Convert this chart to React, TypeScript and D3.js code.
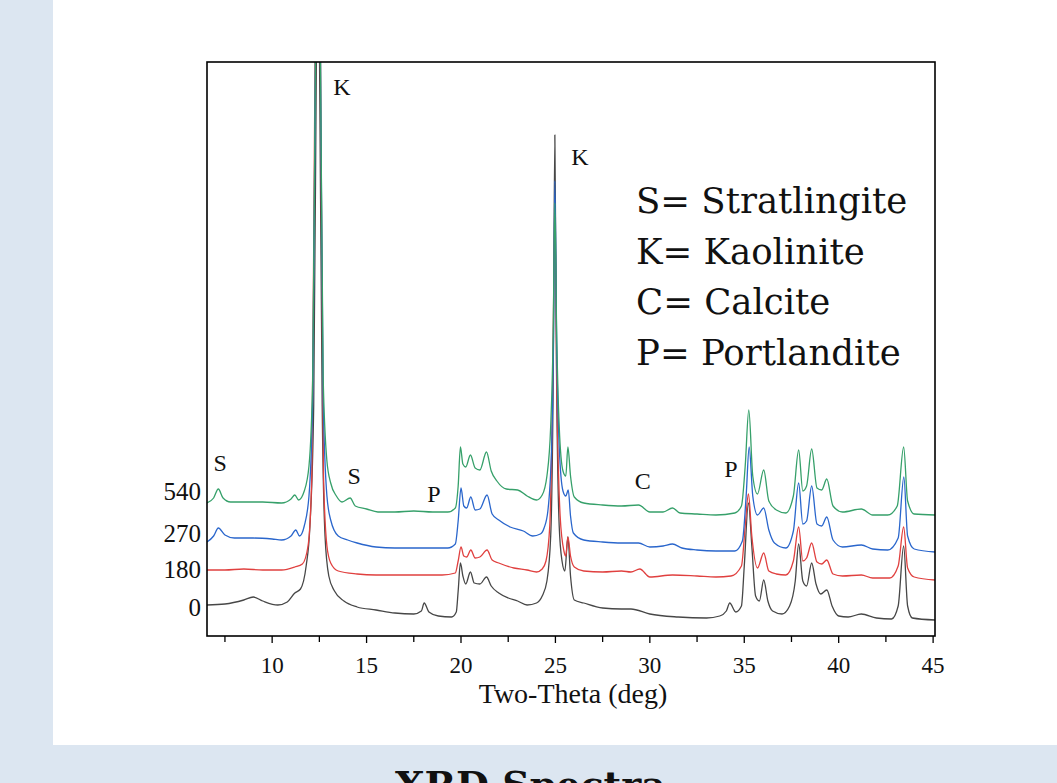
import React from 'react';
import * as d3 from 'd3';

// two-theta (deg) / intensity pairs, one array per curing age
const scan0: [number, number][] = [
  [6.55, 31], [7.5, 32], [8.5, 36], [9.0, 39], [9.5, 35], [10.3, 31], [10.8, 34], [11.2, 43], [11.5, 47],
  [11.8, 70], [12.0, 110], [12.2, 230], [12.35, 600], [12.42, 760], [12.5, 600], [12.65, 230], [12.8, 100],
  [13.0, 60], [13.3, 45], [13.8, 35], [14.5, 29], [15.5, 26], [16.5, 23], [17.5, 22], [17.9, 25], [18.05, 33],
  [18.3, 24], [18.8, 20], [19.5, 19], [19.75, 24], [19.85, 45], [19.97, 73], [20.1, 60], [20.25, 52], [20.5, 64],
  [20.7, 53], [21.0, 52], [21.35, 59], [21.6, 50], [22.0, 43], [22.5, 38], [23.0, 35], [23.5, 31], [24.0, 33],
  [24.3, 40], [24.55, 55], [24.75, 100], [24.88, 250], [24.97, 501], [25.06, 260], [25.2, 110], [25.35, 75],
  [25.5, 65], [25.66, 99], [25.8, 60], [26.0, 36], [26.5, 33], [27.5, 28], [28.5, 27], [29.0, 27], [30.0, 22],
  [31.5, 19], [33.0, 18], [33.7, 20], [34.05, 25], [34.23, 33], [34.55, 24], [34.85, 30], [35.0, 70],
  [35.22, 133], [35.4, 90], [35.6, 40], [35.8, 35], [36.03, 56], [36.25, 35], [36.5, 25], [37.0, 22],
  [37.4, 30], [37.7, 55], [37.88, 92], [38.1, 55], [38.3, 50], [38.57, 73], [38.8, 52], [39.05, 42],
  [39.37, 46], [39.65, 30], [40.0, 20], [40.5, 19], [41.2, 22], [42.0, 18], [42.8, 17], [43.15, 30],
  [43.44, 90], [43.65, 30], [43.9, 18], [45.1, 16],
];

const scan180: [number, number][] = [
  [6.55, 66], [7.5, 66], [8.5, 67], [9.5, 66], [10.5, 66], [11.2, 69], [11.6, 72], [11.9, 90], [12.1, 160],
  [12.28, 600], [12.42, 770], [12.55, 600], [12.72, 160], [12.9, 90], [13.1, 73], [13.5, 65], [14.5, 62],
  [15.5, 61], [17.0, 61], [19.0, 61], [19.7, 63], [19.85, 75], [20.0, 89], [20.15, 80], [20.3, 79],
  [20.52, 86], [20.75, 78], [21.0, 79], [21.38, 86], [21.65, 76], [22.0, 73], [22.8, 68], [23.5, 66],
  [24.0, 64], [24.3, 67], [24.5, 75], [24.7, 110], [24.85, 240], [24.97, 420], [25.08, 240], [25.25, 120],
  [25.45, 85], [25.55, 80], [25.66, 99], [25.8, 80], [26.0, 69], [26.5, 65], [27.5, 64], [28.5, 65],
  [29.0, 64], [29.47, 67], [30.0, 59], [31.2, 61], [32.5, 60], [33.5, 59], [34.3, 60], [34.85, 70],
  [35.05, 110], [35.22, 142], [35.4, 100], [35.7, 68], [36.03, 83], [36.3, 65], [36.7, 62], [37.2, 61],
  [37.6, 75], [37.88, 109], [38.1, 75], [38.3, 78], [38.57, 93], [38.85, 74], [39.1, 72], [39.37, 76],
  [39.7, 62], [40.2, 60], [41.2, 61], [41.8, 58], [42.7, 58], [43.15, 70], [43.44, 109], [43.65, 68],
  [44.0, 59], [45.1, 56],
];

const scan270: [number, number][] = [
  [6.55, 94], [6.9, 100], [7.15, 108], [7.5, 101], [8.0, 98], [9.0, 98], [10.0, 97], [10.5, 96], [11.0, 100],
  [11.25, 106], [11.45, 100], [11.7, 110], [11.95, 140], [12.15, 240], [12.3, 600], [12.42, 780], [12.55, 600],
  [12.7, 240], [12.9, 140], [13.1, 116], [13.5, 100], [14.0, 96], [14.5, 93], [15.5, 89], [16.5, 88],
  [18.0, 88], [19.3, 88], [19.7, 92], [19.85, 115], [20.0, 148], [20.15, 130], [20.3, 128], [20.52, 139],
  [20.75, 126], [21.0, 127], [21.38, 141], [21.65, 122], [22.0, 116], [22.6, 109], [23.3, 105], [23.8, 100],
  [24.2, 102], [24.4, 108], [24.6, 125], [24.8, 190], [24.9, 300], [24.97, 455], [25.06, 300], [25.2, 190],
  [25.4, 145], [25.55, 140], [25.68, 146], [25.8, 120], [25.95, 103], [26.5, 96], [27.5, 94], [28.5, 93],
  [29.4, 93], [30.0, 89], [30.7, 90], [31.2, 92], [31.7, 88], [32.5, 86], [33.5, 85], [34.5, 85], [34.9, 95],
  [35.1, 140], [35.26, 189], [35.45, 140], [35.7, 121], [36.03, 128], [36.3, 106], [36.6, 93], [37.2, 88],
  [37.6, 105], [37.88, 153], [38.1, 112], [38.3, 115], [38.57, 150], [38.85, 112], [39.1, 110], [39.37, 119],
  [39.7, 96], [40.2, 89], [41.2, 91], [41.8, 87], [42.6, 86], [43.15, 98], [43.45, 159], [43.65, 100],
  [44.0, 87], [45.1, 84],
];

const scan540: [number, number][] = [
  [6.55, 133], [6.9, 138], [7.15, 147], [7.4, 138], [7.8, 134], [8.5, 134], [9.5, 134], [10.5, 133], [11.0, 137],
  [11.2, 141], [11.4, 136], [11.7, 145], [11.95, 170], [12.15, 260], [12.3, 600], [12.42, 800], [12.55, 600],
  [12.7, 260], [12.9, 175], [13.1, 153], [13.4, 140], [13.7, 134], [14.13, 138], [14.4, 130], [15.0, 127],
  [15.6, 124], [16.5, 124], [17.5, 125], [18.5, 124], [19.3, 124], [19.7, 128], [19.85, 150], [19.97, 189],
  [20.1, 172], [20.25, 169], [20.5, 181], [20.75, 168], [21.0, 166], [21.35, 184], [21.6, 165], [21.9, 155],
  [22.4, 147], [23.0, 146], [23.5, 140], [24.0, 136], [24.3, 141], [24.55, 160], [24.75, 210], [24.88, 300],
  [24.97, 433], [25.06, 310], [25.2, 210], [25.4, 165], [25.55, 160], [25.66, 189], [25.8, 160], [26.0, 139],
  [26.5, 133], [27.5, 131], [28.5, 130], [29.4, 131], [30.0, 124], [30.7, 124], [31.2, 128], [31.6, 123],
  [32.5, 122], [33.5, 121], [34.5, 123], [34.85, 130], [35.05, 170], [35.24, 226], [35.45, 160], [35.7, 142],
  [36.03, 166], [36.3, 135], [36.7, 126], [37.2, 123], [37.6, 140], [37.88, 186], [38.1, 145], [38.3, 150],
  [38.57, 187], [38.85, 148], [39.1, 146], [39.37, 157], [39.7, 130], [40.2, 124], [41.2, 127], [41.8, 121],
  [42.6, 121], [43.1, 130], [43.44, 189], [43.65, 135], [44.0, 122], [45.1, 121],
];

const ageLabels = ['0', '180', '270', '540'];
const ageLabelLevels = [29, 67, 103, 145];
const scans = [scan0, scan180, scan270, scan540];
const colors = ['#474747', '#e0403f', '#2a66cc', '#36a06a'];

const phaseLetters = ['K', 'K', 'S', 'S', 'P', 'C', 'P'];
const phaseAt: [number, number][] = [
  [13.7, 549], [26.3, 479], [7.25, 173], [14.34, 160], [18.57, 142], [29.63, 155], [34.29, 167],
];

const legendLines = ['S= Stratlingite', 'K= Kaolinite', 'C= Calcite', 'P= Portlandite'];
const majorTicks = [10, 15, 20, 25, 30, 35, 40, 45];
const minorTicks = [7.5, 12.5, 17.5, 22.5, 27.5, 32.5, 37.5, 42.5];

const W = 1057;
const H = 783;
const margin = { top: 62, right: 122, bottom: 147, left: 207 };

export default function App() {
  const x = d3.scaleLinear().domain([6.55, 45.1]).range([margin.left, W - margin.right]);
  const y = d3.scaleLinear().domain([0, 574]).range([H - margin.bottom, margin.top]);

  const line = d3.line<[number, number]>()
    .x(d => x(d[0]))
    .y(d => y(d[1]))
    .curve(d3.curveMonotoneX);

  const serif = '"Liberation Serif", "Times New Roman", serif';
  const bottom = H - margin.bottom;

  return (
    <svg width={W} height={H} style={{ position: 'absolute', left: 0, top: 0, display: 'block' }}>
      <rect x={0} y={0} width={W} height={H} fill="#dce6f1" />
      <rect x={53} y={0} width={W - 53} height={745} fill="#ffffff" />

      <defs>
        <clipPath id="plot">
          <rect x={margin.left} y={margin.top} width={W - margin.right - margin.left} height={bottom - margin.top} />
        </clipPath>
      </defs>

      <g clipPath="url(#plot)">
        {scans.map((s, i) => (
          <path key={i} d={line(s) || ''} fill="none" stroke={colors[i]} strokeWidth={1.3} strokeLinejoin="round" />
        ))}
      </g>

      <rect x={margin.left} y={margin.top} width={W - margin.right - margin.left} height={bottom - margin.top}
        fill="none" stroke="#000" strokeWidth={1.6} />

      {majorTicks.map(t => (
        <g key={t}>
          <line x1={x(t)} x2={x(t)} y1={bottom} y2={bottom + 7} stroke="#000" strokeWidth={1.3} />
          <text x={x(t)} y={bottom + 37} textAnchor="middle" fontFamily={serif} fontSize={23} fill="#111">{t}</text>
        </g>
      ))}
      {minorTicks.map(t => (
        <line key={t} x1={x(t)} x2={x(t)} y1={bottom} y2={bottom + 6} stroke="#000" strokeWidth={1.3} />
      ))}

      {ageLabels.map((l, i) => (
        <text key={l} x={margin.left - 6} y={y(ageLabelLevels[i])} dy="0.35em" textAnchor="end"
          fontFamily={serif} fontSize={25} fill="#111">{l}</text>
      ))}

      {phaseLetters.map((p, i) => (
        <text key={i} x={x(phaseAt[i][0])} y={y(phaseAt[i][1])} dy="0.35em" textAnchor="middle"
          fontFamily={serif} fontSize={24} fill="#111">{p}</text>
      ))}

      {legendLines.map((l, i) => (
        <text key={l} x={636} y={213 + i * 50.5} fontFamily='"DejaVu Serif", Georgia, serif' fontSize={35.5} fill="#111">{l}</text>
      ))}

      <text x={573} y={703} textAnchor="middle" fontFamily={serif} fontSize={28} fill="#111">
        Two-Theta (deg)
      </text>

      <text x={395} y={798} fontFamily='"DejaVu Serif", Georgia, serif' fontWeight="bold" fontSize={38} fill="#111">
        XRD Spectra
      </text>
    </svg>
  );
}
